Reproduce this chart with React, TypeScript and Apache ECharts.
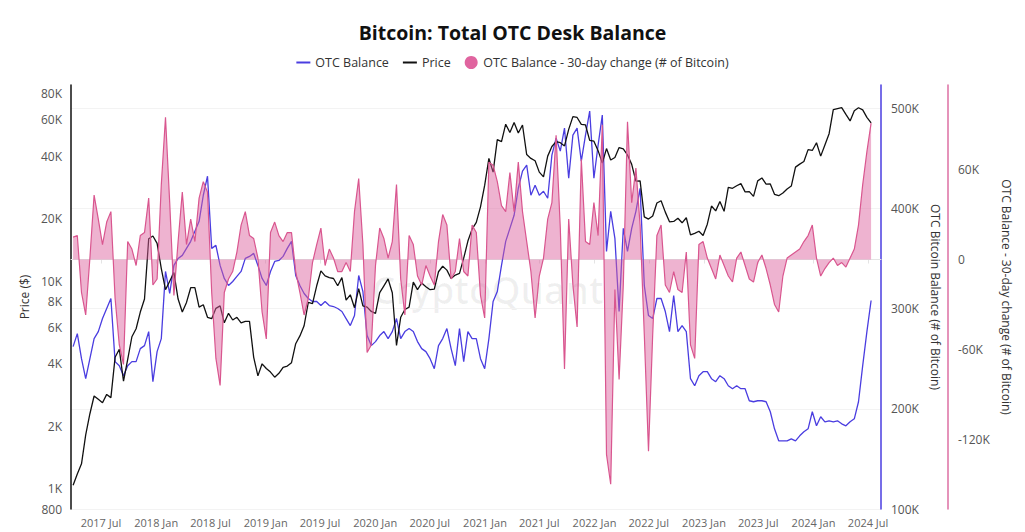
import React, { useEffect, useRef } from "react";
import * as echarts from "echarts";

const DAY = 86400000;
const START = Date.UTC(2017, 2, 30);
const STEP_DAYS = 14;

// BTC price, USD (every 14 days from 2017-03-30)
const priceUsd = [
  1040, 1180, 1320, 1820, 2300, 2800, 2700, 2600, 2850, 2750, 4300, 4700, 3300, 4200, 5400, 5900, 7100, 8200, 16000, 16500,
  15200, 11500, 9100, 10000, 11000, 8200, 7100, 7900, 9300, 9300, 7500, 7700, 6700, 6600, 7400, 7600, 6300, 7000, 6500, 6700, 6300, 6400, 6400, 4300, 3500, 4000,
  3800, 3650, 3450, 3600, 3850, 3900, 4050, 5000, 5450, 6100, 7900, 7800, 9500, 11200, 10600, 10400, 10300, 9500, 10400, 8100, 8600, 7450, 9200, 7600, 7500, 7150,
  7000, 8800, 9500, 10250, 8800, 4900, 6700, 7300, 7500, 9900, 9100, 9800, 9400, 9100, 9150, 11100, 11800, 11300, 10300, 10700, 10900, 12900, 15600, 17800, 19200, 22800, 29000,
  39000, 33500, 48000, 47000, 57000, 52000, 58000, 51700, 56500, 40700, 39000, 38000, 33500, 31800, 40000, 44500, 47000, 46400, 44800, 53800, 62000, 61400, 56900, 56500, 47600, 47200,
  42500, 37000, 43500, 38300, 39400, 44000, 43400, 40500, 36500, 30300, 30400, 20400, 19900, 20600, 23800, 24400, 21500, 19300, 19400, 20100, 19100, 20200, 16700, 17000, 17400, 16600,
  18800, 23000, 21800, 24200, 21700, 28300, 28000, 28800, 29500, 26900, 27000, 25600, 30400, 31400, 29300, 29400, 26200, 25800, 26600, 27800, 28700, 35400, 36600, 37700, 43000, 42600,
  46400, 40000, 45300, 51300, 66900, 67800, 68500, 63500, 59100, 66200, 68400, 66800, 61500, 57800,
];

// OTC desk balance, thousands of BTC
const otcBalanceK = [
  262, 275, 250, 230, 250, 270, 277, 290, 300, 310,
  247, 243, 233, 243, 247, 247, 260, 263, 277, 227,
  257, 270, 337, 315, 343, 350, 353, 360, 367, 377,
  387, 413, 432, 360, 363, 343, 330, 323, 327, 332,
  337, 350, 352, 355, 343, 330, 323, 337, 347, 348,
  352, 360, 367, 333, 323, 315, 310, 307, 307, 303,
  307, 303, 302, 300, 297, 290, 283, 293, 333, 317,
  273, 263, 267, 273, 277, 270, 277, 290, 270, 277,
  280, 277, 267, 260, 257, 250, 240, 263, 270, 280,
  260, 243, 280, 247, 277, 270, 270, 250, 240, 270,
  307, 317, 343, 367, 380, 393, 420, 437, 443, 413,
  423, 413, 417, 410, 453, 470, 457, 480, 430, 473,
  480, 447, 473, 497, 430, 463, 493, 357, 397, 370,
  297, 380, 357, 380, 397, 420, 323, 293, 290, 310,
  310, 297, 277, 313, 277, 283, 277, 230, 223, 233,
  237, 237, 230, 227, 233, 230, 223, 220, 223, 220,
  220, 208, 207, 208, 208, 207, 197, 180, 168, 168,
  168, 170, 168, 173, 177, 180, 197, 183, 192, 187,
  188, 187, 188, 185, 183, 187, 190, 207, 243, 277,
  308,
];

// OTC balance 30-day change, thousands of BTC
const otcChange30dK = [
  15, 16, -22, -37, 1, 43, 27, 10, 25, 32,
  -26, -57, -70, 12, 7, -4, 16, 18, 41, -17,
  -13, 50, 95, 38, -24, 12, 45, 10, 27, 12,
  41, 52, 45, -22, -66, -84, -22, -13, -8, 5,
  23, 32, 16, 14, 1, -35, -53, 18, 25, 16,
  12, 18, 18, -8, -22, -37, -26, -2, 10, 21,
  -4, 7, 1, -8, -8, -2, -8, 32, 54, 10,
  -62, -57, -4, 21, 14, 1, 12, 50, -13, -37,
  16, 10, -11, -17, -4, -11, -17, 12, 30, 23,
  -13, -8, 14, -8, -11, 23, 18, -24, -39, 65,
  63, 52, 36, 32, 58, 32, 65, 32, 12, -8,
  -39, -11, 1, 27, 38, 83, 21, -73, 27, -17,
  -45, 67, 12, 10, 38, 16, 90, -130, -150, -20,
  -80, -17, 92, 38, 61, 23, -50, -128, -50, 16,
  23, -17, -22, -8, -20, -22, 5, -57, -66, 10,
  12, 1, -6, -13, 3, -4, -11, -15, 1, 5,
  -4, -13, -15, -2, 3, -6, -17, -30, -35, -11,
  1, 3, 5, 7, 12, 16, 23, 1, -11, -6,
  -2, 1, -4, -2, -5, 1, 7, 23, 50, 72,
  91,
];

const xTickDates = [
  "2017-07-01", "2018-01-01", "2018-07-01", "2019-01-01", "2019-07-01", "2020-01-01", "2020-07-01", "2021-01-01",
  "2021-07-01", "2022-01-01", "2022-07-01", "2023-01-01", "2023-07-01", "2024-01-01", "2024-07-01",
];
const priceTicks = [800, 1000, 2000, 4000, 6000, 8000, 10000, 20000, 40000, 60000, 80000];
const balanceTicksK = [100, 200, 300, 400, 500];
const changeTicksK = [-120, -60, 0, 60];

const MONTHS = ["Jan", "Feb", "Mar", "Apr", "May", "Jun", "Jul", "Aug", "Sep", "Oct", "Nov", "Dec"];
const FONT = "Open Sans";
const LINE_ICON = "path://M0,0L14,0L14,2L0,2Z";

export default function App() {
  const ref = useRef<HTMLDivElement>(null);
  useEffect(() => {
    if (!ref.current) return;
    const chart = echarts.init(ref.current, undefined, { renderer: "svg" });
    const dates = priceUsd.map((_, i) => START + i * STEP_DAYS * DAY);
    const xTicks = xTickDates.map((s) => Date.parse(s + "T00:00:00Z"));
    const kFmt = (v: number) => (v === 0 ? "0" : v + "K");
    const option: any = {
      animation: false,
      backgroundColor: "#ffffff",
      textStyle: { fontFamily: FONT },
      title: {
        text: "Bitcoin: Total OTC Desk Balance",
        left: "center",
        top: 17,
        textStyle: { fontSize: 19.5, fontWeight: "bold", color: "#111", fontFamily: FONT },
      },
      legend: {
        top: 51,
        left: "center",
        itemWidth: 14,
        itemHeight: 13,
        itemGap: 14,
        textStyle: { fontSize: 12.5, color: "#333", fontFamily: FONT },
        data: [
          { name: "OTC Balance", icon: LINE_ICON },
          { name: "Price", icon: LINE_ICON },
          { name: "OTC Balance - 30-day change (# of Bitcoin)", icon: "circle" },
        ],
      },
      graphic: [
        {
          type: "text",
          left: 372,
          top: 271,
          silent: true,
          z: 0,
          style: { text: "CryptoQuant", fontSize: 37, fontFamily: FONT, fontWeight: 600, fill: "rgba(0,0,0,0.06)" },
        },
      ],
      grid: { left: 71, right: 144, top: 85, bottom: 23, containLabel: false },
      xAxis: {
        type: "value",
        min: Date.UTC(2017, 2, 23),
        max: Date.UTC(2024, 7, 13),
        axisLine: { show: true, lineStyle: { color: "#e4e4e4", width: 1 } },
        axisTick: { show: true, length: 4, lineStyle: { color: "#e4e4e4" }, customValues: xTicks },
        axisLabel: {
          color: "#666",
          fontSize: 11,
          margin: 8,
          customValues: xTicks,
          formatter: (v: number) => {
            const d = new Date(v);
            return d.getUTCFullYear() + " " + MONTHS[d.getUTCMonth()];
          },
        },
        splitLine: { show: false },
      },
      yAxis: [
        {
          type: "log",
          position: "left",
          min: 800,
          max: 88000,
          name: "Price ($)",
          nameLocation: "middle",
          nameGap: 37,
          nameTextStyle: { color: "#333", fontSize: 12 },
          axisLine: { show: true, lineStyle: { color: "#111", width: 1.5 } },
          axisTick: { show: false, customValues: priceTicks },
          splitLine: { show: false },
          axisLabel: {
            color: "#555",
            fontSize: 12,
            margin: 9,
            customValues: priceTicks,
            formatter: (v: number) => (v >= 1000 ? Math.round(v / 1000) + "K" : String(Math.round(v))),
          },
        },
        {
          type: "value",
          position: "right",
          min: 100,
          max: 523,
          name: "OTC Bitcoin Balance (# of Bitcoin)",
          nameLocation: "middle",
          nameRotate: -90,
          nameGap: 45,
          nameTextStyle: { color: "#333", fontSize: 12 },
          axisLine: { show: true, lineStyle: { color: "#4a3de0", width: 1.5 } },
          axisTick: { show: false, customValues: balanceTicksK },
          splitLine: { show: true, lineStyle: { color: "#f3f3f3", width: 1 } },
          axisLabel: { color: "#555", fontSize: 12, margin: 10, customValues: balanceTicksK, formatter: kFmt },
        },
        {
          type: "value",
          position: "right",
          offset: 67,
          min: -166.5,
          max: 116.5,
          name: "OTC Balance - 30-day change (# of Bitcoin)",
          nameLocation: "middle",
          nameRotate: -90,
          nameGap: 51,
          nameTextStyle: { color: "#333", fontSize: 12 },
          axisLine: { show: true, lineStyle: { color: "#dc6fa3", width: 1.5 } },
          axisTick: { show: false, customValues: changeTicksK },
          splitLine: { show: false },
          axisLabel: { color: "#555", fontSize: 12, margin: 10, customValues: changeTicksK, formatter: kFmt },
        },
      ],
      series: [
        {
          name: "OTC Balance",
          type: "line",
          yAxisIndex: 1,
          symbol: "none",
          data: dates.map((t, i) => [t, otcBalanceK[i]]),
          lineStyle: { color: "#4a3de0", width: 1.3 },
          itemStyle: { color: "#4a3de0" },
          z: 2,
        },
        {
          name: "Price",
          type: "line",
          yAxisIndex: 0,
          symbol: "none",
          data: dates.map((t, i) => [t, priceUsd[i]]),
          lineStyle: { color: "#111111", width: 1.3 },
          itemStyle: { color: "#111111" },
          z: 3,
        },
        {
          name: "OTC Balance - 30-day change (# of Bitcoin)",
          type: "line",
          yAxisIndex: 2,
          symbol: "none",
          data: dates.map((t, i) => [t, otcChange30dK[i]]),
          lineStyle: { color: "#d9568f", width: 1.2 },
          itemStyle: { color: "#e0649f" },
          areaStyle: { color: "rgba(220,95,155,0.68)" },
          z: 4,
        },
      ],
    };
    chart.setOption(option);
    return () => chart.dispose();
  }, []);
  return <div ref={ref} style={{ position: "fixed", left: 0, top: 0, width: 1025, height: 532 }} />;
}
